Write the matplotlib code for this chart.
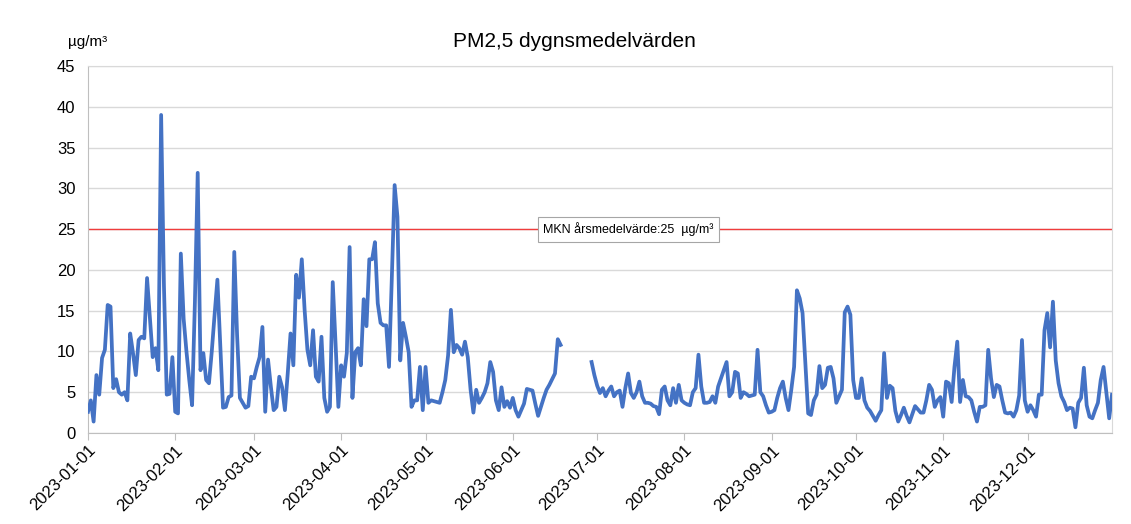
import numpy as np
import pandas as pd
import matplotlib
matplotlib.use('Agg')
from matplotlib import pyplot as plt

plt.rcParams['font.family'] = ['Liberation Sans', 'DejaVu Sans']

# daily means, µg/m³
jan = [2.6, 4.0, 1.4, 7.1, 4.7, 9.2, 10.2, 15.7, 15.5, 5.5, 6.6, 5.0, 4.7, 5.0, 4.0, 12.2,
       9.8, 7.1, 11.4, 11.8, 11.6, 19.0, 14.2, 9.3, 10.4, 7.7, 39.0, 18.0, 4.7, 4.8, 9.3]
feb = [2.6, 2.4, 22.0, 14.0, 10.0, 6.5, 3.4, 16.0, 31.9, 7.7, 9.8, 6.5, 6.1, 10.0, 14.5,
       18.8, 11.0, 3.1, 3.2, 4.4, 4.6, 22.2, 12.0, 4.3, 3.7, 3.1, 3.3, 6.9]
mar = [6.7, 8.1, 9.3, 13.0, 2.6, 9.0, 5.7, 2.8, 3.2, 6.9, 5.6, 2.8, 7.3, 12.2, 8.3, 19.4,
       16.6, 21.3, 15.1, 10.2, 8.3, 12.6, 6.9, 6.3, 11.8, 4.3, 2.6, 3.2, 18.5, 11.0, 3.2]
apr = [8.3, 6.9, 9.8, 22.8, 4.3, 9.9, 10.4, 8.3, 16.4, 13.1, 21.3, 21.3, 23.4, 15.9, 13.5,
       13.2, 13.2, 8.1, 19.0, 30.4, 26.5, 8.9, 13.5, 11.8, 9.9, 3.2, 4.0, 4.0, 8.1, 2.8]
may = [8.1, 3.7, 4.0, 3.9, 3.8, 3.7, 5.0, 6.5, 9.5, 15.1, 9.9, 10.8, 10.4, 9.6, 11.2, 9.3,
       5.3, 2.5, 5.3, 3.7, 4.3, 5.0, 6.1, 8.7, 7.5, 4.0, 2.8, 5.6, 3.2, 3.9, 3.1]
jun = [4.3, 2.8, 2.0, 2.8, 3.6, 5.4, 5.3, 5.2, 3.6, 2.1, 3.2, 4.3, 5.3, 5.9, 6.6, 7.3,
       11.5, 10.8, None, None, None, None, None, None, None, None, None, None, 8.7, 7.1]
jul = [5.8, 4.9, 5.5, 4.5, 5.2, 5.7, 4.5, 5.0, 5.2, 3.2, 5.5, 7.3, 4.9, 4.3, 5.0, 6.3,
       4.5, 3.7, 3.7, 3.6, 3.3, 3.2, 2.3, 5.3, 5.7, 4.0, 3.4, 5.5, 3.7, 5.9, 4.0]
aug = [3.7, 3.5, 3.4, 5.0, 5.5, 9.6, 5.7, 3.7, 3.7, 3.8, 4.5, 3.7, 5.7, 6.7, 7.7, 8.7,
       4.5, 5.0, 7.5, 7.3, 4.3, 5.0, 4.8, 4.5, 4.6, 4.7, 10.2, 5.0, 4.5, 3.4, 2.5]
sep = [2.6, 2.8, 4.3, 5.5, 6.3, 4.3, 2.8, 5.3, 8.1, 17.5, 16.5, 14.7, 8.6, 2.4, 2.2, 4.0,
       4.7, 8.2, 5.5, 5.9, 8.0, 8.1, 6.7, 3.7, 4.5, 5.3, 14.8, 15.5, 14.5, 6.5]
oct_ = [4.3, 4.3, 6.7, 4.0, 3.1, 2.7, 2.1, 1.5, 2.2, 2.8, 9.8, 4.3, 5.8, 5.5, 2.7, 1.4,
        2.2, 3.1, 2.1, 1.3, 2.3, 3.3, 2.9, 2.5, 2.5, 4.0, 5.9, 5.3, 3.2, 4.0, 4.4]
nov = [2.0, 6.3, 6.1, 3.8, 8.1, 11.2, 3.8, 6.5, 4.5, 4.4, 4.0, 2.6, 1.4, 3.2, 3.2, 3.4,
       10.2, 6.7, 4.4, 5.9, 5.7, 4.0, 2.5, 2.4, 2.5, 2.0, 2.8, 4.6, 11.4, 4.0]
dec = [2.6, 3.4, 2.8, 2.0, 4.7, 4.7, 12.6, 14.7, 10.5, 16.1, 8.9, 6.1, 4.5, 3.8, 2.8, 3.1,
       3.0, 0.7, 3.7, 4.3, 8.0, 3.4, 2.0, 1.8, 2.8, 3.7, 6.5, 8.1, 5.0, 1.8, 4.7]

limit = 25
limit_label = 'MKN årsmedelvärde:25  µg/m³'

pm25 = np.array(jan + feb + mar + apr + may + jun + jul + aug + sep + oct_ + nov + dec,
                dtype=float)
dates = pd.date_range('2023-01-01', '2023-12-31', freq='D')
months = pd.date_range('2023-01-01', '2023-12-01', freq='MS')

fig = plt.figure(figsize=(11.31, 5.24), dpi=100)
ax = fig.add_axes([0.0778, 0.1737, 0.9054, 0.7003])

ax.plot(dates, pm25, color='#4472C4', lw=2.7, solid_joinstyle='round', zorder=3)
ax.axhline(limit, color='#F03C3C', lw=1.0, zorder=2)
ax.text(0.528, limit, limit_label, transform=ax.get_yaxis_transform(),
        ha='center', va='center', fontsize=9, zorder=4,
        bbox=dict(boxstyle='square,pad=0.45', fc='white', ec='#A6A6A6', lw=0.8))

ax.set_xlim(dates[0], dates[-1])
ax.set_ylim(0, 45)
ax.set_yticks(range(0, 50, 5))
ax.set_xticks(months)
ax.set_xticklabels([m.strftime('%Y-%m-%d') for m in months], rotation=45,
                   ha='right', rotation_mode='anchor', fontsize=12)
ax.tick_params(axis='y', length=0, labelsize=12, pad=9)
ax.tick_params(axis='x', length=5, color='#BFBFBF', pad=2)
ax.yaxis.grid(True, color='#D9D9D9', lw=1)
ax.set_axisbelow(True)
for s in ['left', 'bottom']:
    ax.spines[s].set_color('#BFBFBF')
for s in ['top', 'right']:
    ax.spines[s].set_color('#D9D9D9')

fig.text(0.508, 0.92, 'PM2,5 dygnsmedelvärden', ha='center', va='center', fontsize=15)
fig.text(0.060, 0.92, 'µg/m³', ha='left', va='center', fontsize=11)

fig.savefig('out.png', dpi=100)
